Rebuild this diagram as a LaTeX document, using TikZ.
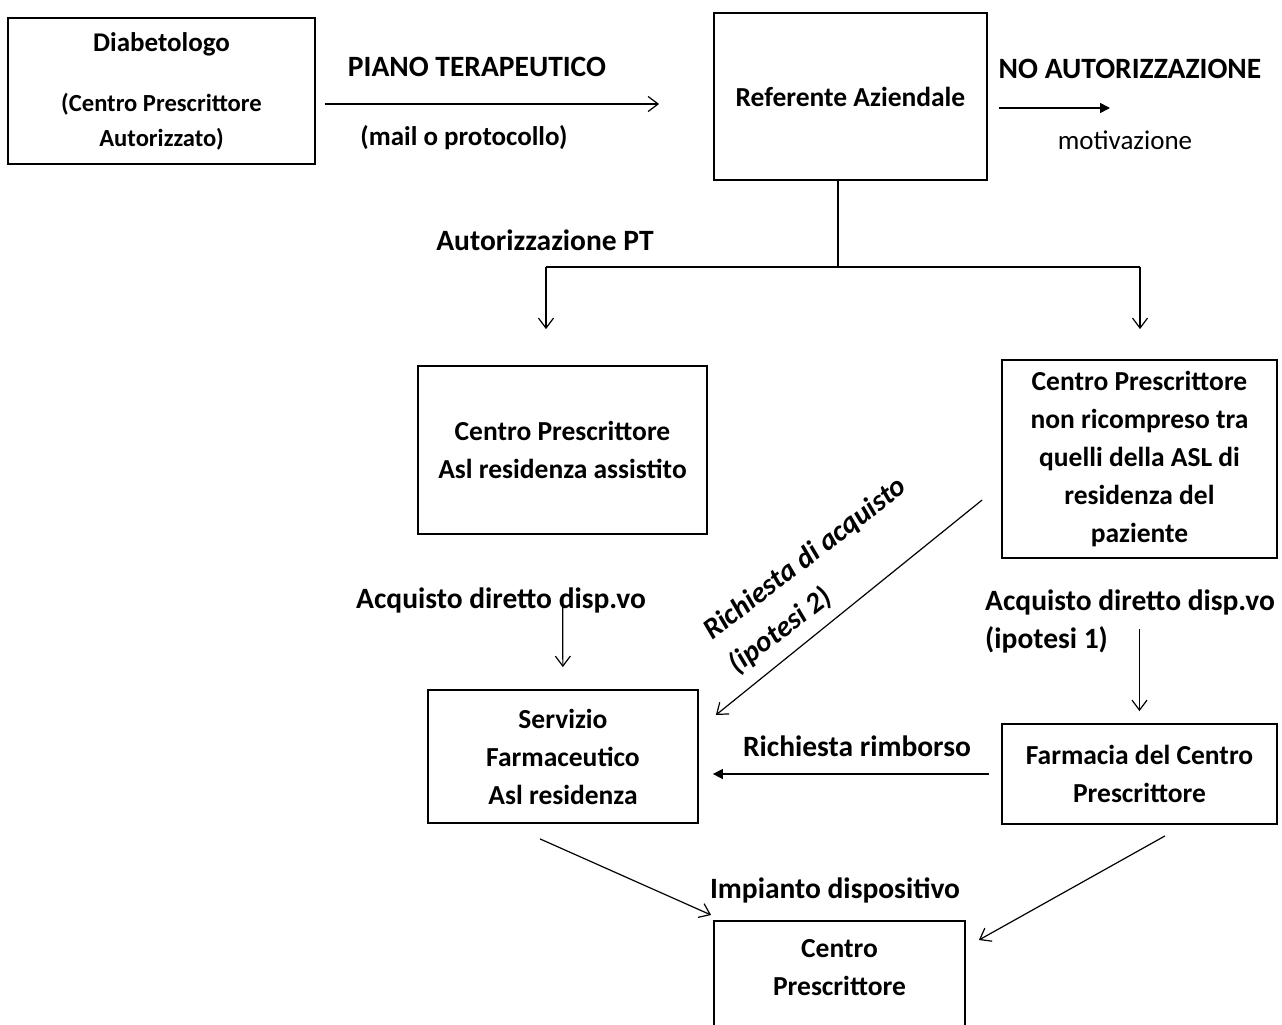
\documentclass[tikz,border=0pt]{standalone}
\usepackage{fontspec}
\setmainfont{Carlito}
\usepackage{tikz}
\usetikzlibrary{arrows.meta,positioning,calc}

\begin{document}
\begin{tikzpicture}[x=1pt, y=-1pt,
    box/.style={draw, line width=1.8pt, align=center, inner sep=0pt, font=\bfseries\fontsize{27.5}{38}\selectfont},
    lbl/.style={inner sep=0pt, font=\bfseries\fontsize{29.5}{38}\selectfont},
    openarr/.style={line width=1.2pt, -{Straight Barb[length=10pt, width=15pt, line width=1.2pt]}},
    fillarr/.style={line width=1.6pt, -{Triangle[length=10pt, width=10pt]}},
]
    \useasboundingbox (0,0) rectangle (1282,1025);

    % Boxes
    \node[box, minimum width=307pt, minimum height=146pt, font=\bfseries\fontsize{24.6}{35}\selectfont] (diab) at (161.5,91) {{\fontsize{27}{35}\selectfont Diabetologo}\\[25pt](Centro Prescrittore\\Autorizzato)};
    \node[box, minimum width=273pt, minimum height=167pt] (ref) at (850.5,96.5) {Referente Aziendale};
    \node[box, minimum width=289pt, minimum height=168pt] (aslres) at (562.5,450) {Centro Prescrittore\\Asl residenza assistito};
    \node[box, minimum width=275pt, minimum height=198pt] (noncomp) at (1139.5,459) {Centro Prescrittore\\non ricompreso tra\\quelli della ASL di\\residenza del\\paziente};
    \node[box, minimum width=270pt, minimum height=133pt] (servfarm) at (563,756.5) {Servizio\\Farmaceutico\\Asl residenza};
    \node[box, minimum width=275pt, minimum height=100pt] (farmcp) at (1139.5,774) {Farmacia del Centro\\Prescrittore};
    \node[box, minimum width=251pt, minimum height=132pt, anchor=north] (centrocp) at (839.5,920) {Centro\\Prescrittore\\\mbox{}};

    % Connectors
    \draw[openarr, shorten <=9pt, shorten >=54pt] ([yshift=-13pt]diab.east) -- ([yshift=-7.5pt]ref.west);
    \coordinate (noend) at (1110,108);
    \draw[fillarr, shorten <=11pt] ([yshift=-11.5pt]ref.east) -- (noend);

    \coordinate (split) at (838,267);
    \coordinate (brL) at (546,267);
    \coordinate (brR) at (1140,267);
    \draw[line width=1.2pt] ([xshift=-12.5pt]ref.south) -- (split);
    \draw[line width=1.2pt] (brL) -- (brR);
    \draw[openarr, shorten >=36pt] (brL) -- (brL |- aslres.north);
    \draw[openarr, shorten >=30pt] (brR) -- (brR |- noncomp.north);

    \draw[openarr, shorten <=61pt, shorten >=22pt] (aslres) -- (servfarm);
    \draw[openarr] ([shift={(-19,41)}]noncomp.west) -- ([shift={(17,-41.5)}]servfarm.east);
    \draw[openarr, shorten <=70pt, shorten >=12pt] (noncomp) -- (farmcp);
    \draw[fillarr, shorten <=12pt, shorten >=14pt] (farmcp.west) -- (farmcp.west -| servfarm.east);
    \draw[openarr] ([shift={(-23,15)}]servfarm.south) -- ([shift={(-2,-5)}]centrocp.north west);
    \draw[openarr] ([shift={(25.5,11)}]farmcp.south) -- ([shift={(13,20)}]centrocp.north east);

    % Labels
    \node[lbl] (pianolbl) at (477,67) {PIANO TERAPEUTICO};
    \node[lbl, font=\bfseries\fontsize{27}{38}\selectfont] (maillbl) at (464,138) {(mail o protocollo)};
    \node[lbl] (nolbl) at (1130,69) {NO AUTORIZZAZIONE};
    \node[lbl, font=\fontsize{27}{38}\selectfont] (motivlbl) at (1125,140) {motivazione};
    \node[lbl] (autlbl) at (545,240) {Autorizzazione PT};
    \node[lbl] (acqLlbl) at (501,600) {Acquisto diretto disp.vo};
    \node[lbl, align=left, anchor=west] (acqRlbl) at (985,621) {Acquisto diretto disp.vo\\(ipotesi 1)};
    \node[lbl, align=left, rotate=37.5, font=\bfseries\itshape\fontsize{29.3}{42}\selectfont] (richlbl) at (818,576) {Richiesta di acquisto\\(ipotesi 2)};
    \node[lbl] (rimblbl) at (857,746) {Richiesta rimborso};
    \node[lbl] (implbl) at (835,890) {Impianto dispositivo};
\end{tikzpicture}
\end{document}
